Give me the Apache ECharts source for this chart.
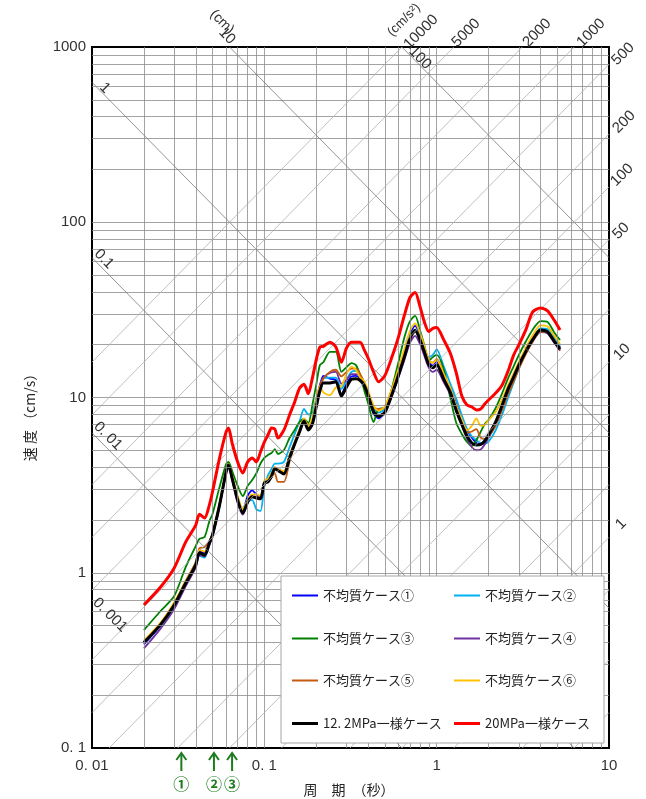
<!DOCTYPE html>
<html><head><meta charset="utf-8">
<script src="https://cdn.jsdelivr.net/npm/echarts@6/dist/echarts.min.js"></script>
<style>html,body{margin:0;padding:0;background:#fff}#c{width:646px;height:799px}</style>
</head><body><div id="c"></div>
<script>
// ---- data ----
const periods = [0.02,0.025,0.03,0.035,0.04, 0.042,0.045,0.048,0.05,0.055, 0.06,0.062,0.065,0.07,0.075,
  0.08,0.085,0.09,0.095,0.1, 0.105,0.11,0.115,0.12,0.13, 0.14,0.15,0.16,0.17,0.18,
  0.19,0.2,0.21,0.22,0.24, 0.26,0.28,0.3,0.32,0.34, 0.36,0.38,0.4,0.43,0.46,
  0.5,0.55,0.6,0.65,0.7, 0.75,0.8,0.85,0.9,0.95, 1.0,1.1,1.2,1.3,1.4,
  1.5,1.6,1.7,1.8,1.9, 2.0,2.2,2.4,2.6,2.8, 3.0,3.3,3.6,4.0,4.4, 4.8,5.2];
const case1 = [0.39,0.50,0.65,0.87,1.12, 1.32,1.30,1.50,1.66,2.46, 3.80,4.15,3.50,2.62,2.25,
  2.75,2.95,2.80,2.70,3.30, 3.40,3.65,3.98,3.90,3.75, 4.65,5.55,6.50,7.50,6.70,
  7.30,9.20,11.6,13.3,12.8, 12.6,10.5,12.0,13.2,13.3, 12.9,11.9,10.2,8.1,7.6,
  8.3,10.8,14.0,18.0,22.8, 25.6,22.8,19.0,15.9,15.2, 16.0,13.3,11.3,9.2,7.6,
  6.5,5.9,5.5,5.4,5.55, 5.95,7.0,8.7,10.8,12.8, 15.0,18.2,21.3,24.6,24.2, 21.6,19.4];
const case2 = [0.40,0.50,0.64,0.86,1.10, 1.25,1.22,1.45,1.62,2.45, 3.75,4.10,3.50,2.70,2.30,
  2.55,2.60,2.30,2.25,3.10, 3.60,3.90,4.20,4.20,4.30, 5.20,6.20,7.30,8.60,8.00,
  8.20,9.80,11.5,12.8,13.0, 13.0,11.2,12.6,14.0,14.2, 13.3,12.2,10.6,8.7,8.2,
  8.6,11.0,14.2,18.3,22.6, 24.5,22.0,19.0,17.0,17.5, 18.8,15.0,12.0,9.8,7.9,
  6.6,6.0,5.7,5.5,5.45, 5.6,6.5,8.0,10.0,12.2, 14.6,18.0,21.2,24.8,24.5, 22.0,19.8];
const case3 = [0.471,0.605,0.737,1.08,1.42, 1.56,1.60,1.97,2.16,3.09, 4.17,4.29,3.81,3.13,2.74,
  3.13,3.38,3.70,4.20,4.52, 4.70,4.82,5.08,4.76,5.02, 5.87,6.53,7.25,7.54,7.15,
  9.06,11.8,15.3,15.9,18.2, 18.2,14.0,14.9,15.7,15.3, 13.4,11.0,9.30,7.25,8.60,
  8.71,11.3,15.9,22.1,27.3, 29.2,24.3,19.7,16.2,17.0, 17.5,14.5,9.93,7.15,6.19,
  5.57,5.29,5.72,6.36,7.06, 7.44,8.71,10.6,12.9,15.1, 17.5,21.0,24.3,27.3,27.0, 23.6,21.3];
const case4 = [0.37,0.48,0.62,0.84,1.07, 1.26,1.24,1.44,1.60,2.40, 3.70,4.05,3.40,2.50,2.15,
  2.50,2.72,2.72,2.70,3.25, 3.35,3.60,3.95,3.85,3.70, 4.60,5.50,6.50,7.50,6.70,
  7.40,9.50,11.8,13.0,13.8, 14.0,12.0,12.6,13.6,13.6, 13.2,12.0,10.4,8.4,7.9,
  8.3,10.2,13.0,16.4,20.5, 22.5,20.2,17.2,14.8,14.0, 14.4,12.2,10.4,8.3,6.9,
  5.8,5.2,5.0,5.05,5.4, 5.9,7.1,8.9,11.0,12.9, 15.0,18.0,20.8,23.6,23.2, 20.6,18.5];
const case5 = [0.40,0.51,0.66,0.90,1.15, 1.38,1.40,1.52,1.66,2.45, 3.75,4.10,3.50,2.65,2.25,
  2.60,2.75,2.70,2.65,3.20, 3.30,3.50,3.70,3.30,3.30, 4.30,5.40,6.50,7.40,6.80,
  7.40,9.30,11.5,12.8,14.0, 14.4,13.2,14.0,14.6,14.6, 13.6,12.2,10.6,8.8,8.6,
  8.8,10.8,13.8,17.6,22.0, 24.3,21.6,18.5,16.0,15.8, 16.6,13.6,11.0,8.8,7.3,
  6.3,6.4,6.6,5.9,5.8, 6.0,6.9,8.5,10.5,12.4, 14.6,17.8,20.8,23.8,23.5, 20.8,18.6];
const case6 = [0.41,0.52,0.68,0.90,1.13, 1.35,1.32,1.50,1.67,2.50, 3.85,4.20,3.60,2.75,2.30,
  2.62,2.80,2.80,2.75,3.35, 3.45,3.70,4.00,3.90,3.80, 4.70,5.60,6.60,7.60,6.90,
  7.60,9.60,11.6,10.7,10.3, 11.4,11.6,13.6,15.0,14.4, 13.0,12.4,11.0,9.0,8.4,
  8.9,11.2,14.6,19.0,24.0, 26.5,23.4,19.5,16.4,15.8, 16.4,13.6,11.3,9.0,7.5,
  6.5,6.9,7.6,6.9,7.0, 7.4,8.3,9.8,11.8,13.8, 16.0,19.4,22.6,25.8,25.4, 22.6,20.2];
const uniform122 = [0.40,0.506,0.655,0.874,1.11, 1.30,1.26,1.48,1.64,2.44, 3.76,4.12,3.47,2.60,2.19,
  2.53,2.71,2.67,2.64,3.25, 3.30,3.55,3.92,3.83,3.66, 4.52,5.43,6.36,7.34,6.53,
  7.06,8.83,10.9,12.1,12.1, 12.3,10.2,11.5,12.7,12.8, 12.5,11.7,10.3,8.32,7.79,
  8.21,10.4,13.4,17.1,21.7, 24.1,21.4,18.1,15.4,14.8, 15.4,12.7,10.7,8.43,7.01,
  6.03,5.50,5.36,5.40,5.65, 6.11,7.25,9.06,11.2,13.1, 15.3,18.4,21.3,24.3,23.7, 21.0,18.9];
const uniform20 = [0.654,0.829,1.065,1.50,1.87, 2.16,2.05,2.44,2.89,4.52, 6.36,6.70,5.50,4.29,3.71,
  4.29,4.52,4.29,4.89,5.57, 6.11,6.70,6.61,5.87,6.53, 7.95,9.43,11.3,11.9,10.5,
  12.9,16.4,19.4,19.6,20.7, 19.4,15.9,19.2,20.7,20.7, 20.7,18.7,16.8,14.0,12.3,
  13.3,17.0,22.1,29.5,37.2, 39.7,33.1,26.8,23.8,24.8, 25.1,21.3,17.9,13.8,10.2,
  9.06,8.83,8.49,8.60,9.18, 9.68,10.6,11.8,14.2,17.5, 20.0,24.5,30.7,32.4,31.2, 27.7,24.3];

const seriesNames = ['不均質ケース①','不均質ケース②','不均質ケース③','不均質ケース④','不均質ケース⑤','不均質ケース⑥','12. 2MPa一様ケース','20MPa一様ケース'];
const seriesValues = [case1, case2, case3, case4, case5, case6, uniform122, uniform20];
const xTickLabels = ['0. 01','0. 1','1','10'];          // exponents -2..1
const yTickLabels = ['0. 1','1','10','100','1000'];      // exponents -1..3
const dispValues = [0.001, 0.01, 0.1, 1, 10, 100];       // cm
const accValues = [0.1,0.2,0.5,1,2,5,10,20,50,100,200,500,1000,2000,5000,10000]; // cm/s2
const markPeriods = [0.033, 0.051, 0.065];
const markLabels = ['①','②','③'];

// ---- styles ----
const colors = ['#0000FF','#00B0F0','#008000','#7030A0','#C55A11','#FFC000','#000000','#FF0000'];
const widths = [1.8,1.8,1.8,1.8,1.8,1.8,3,3];
const FONT = '"Noto Sans CJK JP", "Noto Sans", sans-serif';
const NUMFONT = '"Liberation Sans", Arial, sans-serif';
const TMIN=0.01, TMAX=10, VMIN=0.1, VMAX=1000;

const gridLines = [];
const gridStyle = {color:'#8c8c8c', width:0.8, type:'solid'};
for (let e=-2; e<=0; e++) for (let k=1; k<=9; k++) {
  const v = k*Math.pow(10,e); if (v<=TMIN*1.0001 || v>=TMAX*0.9999) continue;
  gridLines.push({xAxis: v, lineStyle: gridStyle});
}
for (let e=-1; e<=2; e++) for (let k=1; k<=9; k++) {
  const v = k*Math.pow(10,e); if (v<=VMIN*1.0001 || v>=VMAX*0.9999) continue;
  gridLines.push({yAxis: v, lineStyle: gridStyle});
}
dispValues.forEach(D => {
  const c = 2*Math.PI*D;
  const ta = Math.max(TMIN, c/VMAX), tb = Math.min(TMAX, c/VMIN);
  if (ta < tb) gridLines.push([{coord:[ta, c/ta], lineStyle:{color:'#7a7a7a', width:0.8, type:'solid'}}, {coord:[tb, c/tb]}]);
});
accValues.forEach(A => {
  const k = A/(2*Math.PI);
  const ta = Math.max(TMIN, VMIN/k), tb = Math.min(TMAX, VMAX/k);
  if (ta < tb) gridLines.push([{coord:[ta, k*ta], lineStyle:{color:'#b0b0b0', width:0.8, type:'solid'}}, {coord:[tb, k*tb]}]);
});

const series = [{
  type:'line', name:'_grid', data:[[1,1]], symbol:'none', lineStyle:{opacity:0}, silent:true, z:1,
  markLine:{silent:true, symbol:['none','none'], label:{show:false}, animation:false, data:gridLines}
}];
seriesNames.forEach((n,i) => {
  series.push({
    type:'line', name:n, data: periods.map((t,j)=>[t, seriesValues[i][j]]),
    symbol:'none', smooth:0.25, z: i>=6 ? 4+(i-6) : 3,
    lineStyle:{color:colors[i], width:widths[i]}, itemStyle:{color:colors[i]}
  });
});

const legendPos = [[292,596],[454,596],[292,639],[454,639],[292,681],[454,681],[292,724],[454,724]];
const legends = seriesNames.map((n,i)=>{
  const h = i>=6 ? 3 : 2;
  return {
    data:[n], left:legendPos[i][0], top:legendPos[i][1]-7, padding:0, itemWidth:26, itemHeight:h,
    icon:'rect', itemGap:0, selectedMode:false, z:20,
    itemStyle:{color:colors[i]},
    textStyle:{fontSize:13, fontFamily:FONT, color:'#222'}
  };
});

function txt(x,y,text,rot,size,color,font){
  return {type:'text', x:x, y:y, rotation:rot||0, z:15, silent:true,
    style:{text:text, fill:color||'#333', font:(size||15)+'px '+(font||NUMFONT),
      align:'center', verticalAlign:'middle', textAlign:'center', textVerticalAlign:'middle'}};
}
const R = Math.PI/4;
const staticGraphics = [
  {type:'rect', z:10, silent:true, shape:{x:281, y:576, width:323, height:167},
   style:{fill:'#fff', stroke:'#a6a6a6', lineWidth:1}},
  txt(349, 790, '周　期　（秒）', 0, 14, '#222', FONT),
  txt(30, 414, '速 度 （cm/s）', Math.PI/2, 14, '#222', FONT),
  // displacement labels
  txt(105, 88, '1', -R), txt(104, 259, '0.1', -R), txt(108, 436, '0. 01', -R), txt(110, 615, '0. 001', -R),
  txt(222, 22, '(cm)', -R, 14), txt(227, 36, '10', -R), txt(420, 58, '100', -R),
  // acceleration labels
  txt(404, 20, '(cm/s²)', R, 13), txt(421, 32, '10000', R), txt(466, 33, '5000', R), txt(537, 33, '2000', R),
  txt(591, 33, '1000', R), txt(623, 54, '500', R), txt(624, 122, '200', R), txt(622, 175, '100', R),
  txt(621, 231, '50', R), txt(622, 352, '10', R), txt(621, 524, '1', R)
];

const chart = echarts.init(document.getElementById('c'), null, {renderer:'canvas'});
chart.setOption({
  animation:false,
  backgroundColor:'#fff',
  grid:{left:92, top:47, width:517, height:701, show:true, borderColor:'#000', borderWidth:2,
        backgroundColor:'transparent', containLabel:false, outerBoundsMode:'none'},
  xAxis:{type:'log', logBase:10, min:TMIN, max:TMAX,
    axisLine:{show:false}, axisTick:{show:false}, splitLine:{show:false}, minorSplitLine:{show:false},
    axisLabel:{margin:10, fontSize:15, fontFamily:NUMFONT, color:'#333',
      formatter:v=>xTickLabels[Math.round(Math.log10(v))+2]}},
  yAxis:{type:'log', logBase:10, min:VMIN, max:VMAX,
    axisLine:{show:false}, axisTick:{show:false}, splitLine:{show:false},
    axisLabel:{margin:6, fontSize:15, fontFamily:NUMFONT, color:'#333',
      formatter:v=>yTickLabels[Math.round(Math.log10(v))+1]}},
  legend: legends,
  series: series,
  graphic: staticGraphics
});

const arrowGraphics = [];
markPeriods.forEach((t,i)=>{
  const x = chart.convertToPixel({xAxisIndex:0}, t);
  arrowGraphics.push({type:'line', z:15, silent:true, shape:{x1:x, y1:754, x2:x, y2:771},
    style:{stroke:'#1E7B1E', lineWidth:2}});
  arrowGraphics.push({type:'polyline', z:15, silent:true, shape:{points:[[x-5,760],[x,753],[x+5,760]]},
    style:{stroke:'#1E7B1E', lineWidth:2, fill:null}});
  const t2 = txt(x, 784, markLabels[i], 0, 16, '#1E7B1E', FONT);
  t2.style.font = 'bold 16px ' + FONT;
  arrowGraphics.push(t2);
});
chart.setOption({graphic: staticGraphics.concat(arrowGraphics)});
</script>
</body></html>
